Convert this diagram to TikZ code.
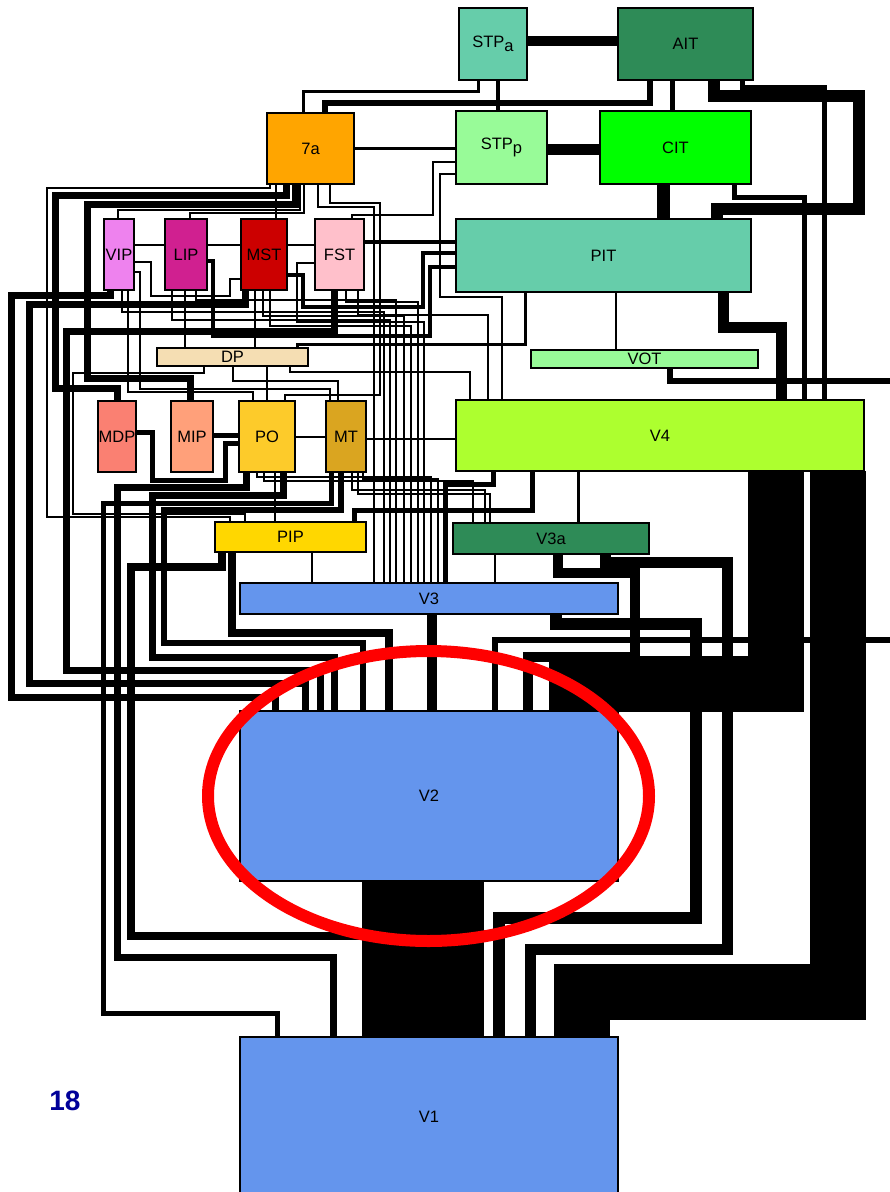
\documentclass[tikz,border=0pt]{standalone}
\usepackage{fontspec}
\setmainfont{Liberation Sans}
\pgfdeclarelayer{bg}
\pgfsetlayers{bg,main}
\definecolor{cAqua}{HTML}{66CDAA}
\definecolor{cSea}{HTML}{2E8B57}
\definecolor{cOrange}{HTML}{FFA500}
\definecolor{cPale}{HTML}{98FB98}
\definecolor{cLime}{HTML}{00FF00}
\definecolor{cViolet}{HTML}{EE82EE}
\definecolor{cLip}{HTML}{D02090}
\definecolor{cMst}{HTML}{CC0000}
\definecolor{cPink}{HTML}{FFC0CB}
\definecolor{cWheat}{HTML}{F5DEB3}
\definecolor{cSalmon}{HTML}{FA8072}
\definecolor{cLSalmon}{HTML}{FFA07A}
\definecolor{cPo}{HTML}{FDCB2A}
\definecolor{cGold}{HTML}{DAA520}
\definecolor{cVfour}{HTML}{ADFF2F}
\definecolor{cPip}{HTML}{FFD700}
\definecolor{cBlue}{HTML}{6495ED}
\definecolor{cNum}{HTML}{000099}
\begin{document}
\begin{tikzpicture}[x=1pt,y=-1pt,line join=miter,
  box/.style={draw=black,line width=1.6pt,rectangle,inner sep=0pt,outer sep=0pt,font=\fontsize{16.5}{18}\selectfont,text=black},
  thinln/.style={line width=1.3pt},
  w2/.style={line width=2pt},
  w3/.style={line width=3pt},
  w4/.style={line width=4pt},
  w5/.style={line width=5pt},
  w6/.style={line width=6pt},
  w7/.style={line width=7pt},
  w8/.style={line width=8pt},
  w10/.style={line width=10pt},
  w11/.style={line width=11pt},
  w12/.style={line width=12pt},
  w13/.style={line width=13pt},
  massive/.style={line width=56pt}]
\useasboundingbox (0,0) rectangle (890,1192);

% ---- boxes
\node[box,fill=cAqua,minimum width=68pt,minimum height=72pt] (stpa) at (493,44) {STP\raisebox{-0.45ex}{a}};
\node[box,fill=cSea,minimum width=135pt,minimum height=72pt] (ait) at (685.5,44) {AIT};
\node[box,fill=cOrange,minimum width=87pt,minimum height=71pt] (sev) at (310.5,148.5) {7a};
\node[box,fill=cPale,minimum width=91pt,minimum height=73pt] (stpp) at (501.5,147.5) {STP\raisebox{-0.45ex}{p}};
\node[box,fill=cLime,minimum width=151pt,minimum height=73pt] (cit) at (675.5,147.5) {CIT};
\node[box,fill=cViolet,minimum width=30pt,minimum height=71pt] (vip) at (119,254.5) {VIP};
\node[box,fill=cLip,minimum width=42pt,minimum height=71pt] (lip) at (186,254.5) {LIP};
\node[box,fill=cMst,minimum width=46pt,minimum height=71pt] (mst) at (264,254.5) {MST};
\node[box,fill=cPink,minimum width=49pt,minimum height=71pt] (fst) at (339.5,254.5) {FST};
\node[box,fill=cAqua,minimum width=295pt,minimum height=73pt] (pit) at (603.5,255.5) {PIT};
\node[box,fill=cWheat,minimum width=151pt,minimum height=18pt] (dp) at (232.5,357) {DP};
\node[box,fill=cPale,minimum width=227pt,minimum height=18pt] (vot) at (644.5,359) {VOT};
\node[box,fill=cSalmon,minimum width=38pt,minimum height=71pt] (mdp) at (117,436.5) {MDP};
\node[box,fill=cLSalmon,minimum width=42pt,minimum height=71pt] (mip) at (192,436.5) {MIP};
\node[box,fill=cPo,minimum width=56pt,minimum height=71pt] (po) at (267,436.5) {PO};
\node[box,fill=cGold,minimum width=40pt,minimum height=71pt] (mt) at (346,436.5) {MT};
\node[box,fill=cVfour,minimum width=408pt,minimum height=71pt] (v4) at (660,435.5) {V4};
\node[box,fill=cPip,minimum width=151pt,minimum height=30pt] (pip) at (290.5,537) {PIP};
\node[box,fill=cSea,minimum width=196pt,minimum height=31pt] (v3a) at (551,538.5) {V3a};
\node[box,fill=cBlue,minimum width=378pt,minimum height=31pt] (v3) at (429,598.5) {V3};
\node[box,fill=cBlue,minimum width=378pt,minimum height=170pt] (v2) at (429,796) {V2};
\node[box,fill=cBlue,minimum width=378pt,minimum height=160pt] (v1) at (429,1117) {V1};
\node[font=\fontsize{28}{30}\selectfont\bfseries,text=cNum] (pgnum) at (65,1101) {18};

\coordinate (edgeA) at (896,381);
\coordinate (edgeB) at (896,640);
\coordinate (pipEnd) at (400,936);

\begin{pgfonlayer}{bg}
% ---- top
\draw[line width=10pt] (stpa.east |- 0,41) -- (ait.west |- 0,41);
\draw[w4] (stpa.south -| 498,0) -- (stpp.north -| 498,0);
\draw[w3] (stpa.south -| 478,0) -- (478,91) -- (303,91) -- (sev.north -| 303,0);
\draw[w6] (ait.south -| 650,0) -- (650,103) -- (325,103) -- (sev.north -| 325,0);
\draw[w5] (ait.south -| 672,0) -- (cit.north -| 672,0);
\draw[w12] (ait.south -| 714,0) -- (714,96) -- (859,96) -- (859,209) -- (717,209) -- (pit.north -| 717,0);
\draw[w5] (ait.south -| 742,0) -- (742,87) -- (824,87) -- (v4.north -| 824,0);
\draw[w5] (cit.south -| 734,0) -- (734,197) -- (804,197) -- (v4.north -| 804,0);
\draw[w11] (stpp.east |- 0,149.5) -- (cit.west |- 0,149.5);
\draw[w13] (cit.south -| 663,0) -- (pit.north -| 663,0);
\draw[w3] (sev.east |- 0,148) -- (stpp.west |- 0,148);
\draw[w11] (pit.south -| 723,0) -- (723,327) -- (781,327) -- (v4.north -| 781,0);
\draw[w2] (pit.south -| 616,0) -- (vot.north -| 616,0);
\draw[w6] (vot.south -| 670,0) -- (670,381) -- (edgeA);
\draw[w6] (edgeB) -- (495,640) -- (v2.north -| 495,0);

% ---- massive
\draw[massive] (v4.south -| 776,0) -- (776,684) -- (577,684) -- (v2.north -| 577,0);
\draw[massive] (v4.south -| 838,0) -- (838,992) -- (582,992) -- (v1.north -| 582,0);
\draw[line width=122pt] (v2.south -| 423,0) -- (v1.north -| 423,0);

% ---- V4 / V3a / V3
\draw[w5] (v4.south -| 493,0) -- (493,484) -- (445,484) -- (v3.north -| 445,0);
\draw[w5] (v4.south -| 532,0) -- (532,510) -- (354,510) -- (pip.north -| 354,0);
\draw[w3] (v4.south -| 578,0) -- (v3a.north -| 578,0);
\draw[thinln] (v3a.south -| 495,0) -- (v3.north -| 495,0);
\draw[w10] (v3a.south -| 558,0) -- (558,573) -- (635,573) -- (635,657) -- (528,657) -- (v2.north -| 528,0);
\draw[w11] (v3a.south -| 605,0) -- (605,562) -- (727,562) -- (727,949) -- (530,949) -- (v1.north -| 530,0);
\draw[w10] (v3.south -| 432,0) -- (v2.north -| 432,0);
\draw[w12] (v3.south -| 556,0) -- (556,624) -- (696,624) -- (696,918) -- (499,918) -- (v1.north -| 499,0);

% ---- left loops into V2 / V1
\draw[w7] (vip.south -| 110,0) -- (110,295) -- (11,295) -- (11,697) -- (275,697) -- (v2.north -| 275,0);
\draw[w7] (mst.south -| 245,0) -- (245,304) -- (29,304) -- (29,683) -- (305,683) -- (v2.north -| 305,0);
\draw[w7] (fst.south -| 334,0) -- (334,331) -- (66,331) -- (66,670) -- (320,670) -- (v2.north -| 320,0);
\draw[w7] (po.south -| 283,0) -- (283,495) -- (152,495) -- (152,657) -- (334,657) -- (v2.north -| 334,0);
\draw[w6] (mt.south -| 341,0) -- (341,510) -- (164,510) -- (164,643) -- (363,643) -- (v2.north -| 363,0);
\draw[w8] (pip.south -| 232,0) -- (232,633) -- (389,633) -- (v2.north -| 389,0);
\draw[w5] (mt.south -| 331,0) -- (331,503) -- (103,503) -- (103,1013) -- (277,1013) -- (v1.north -| 277,0);
\draw[w7] (po.south -| 246,0) -- (246,487) -- (117,487) -- (117,957) -- (333,957) -- (v1.north -| 333,0);
\draw[w8] (pip.south -| 222,0) -- (222,567) -- (131,567) -- (131,936) -- (pipEnd);

% ---- upper left
\draw[w7] (sev.south -| 286,0) -- (286,195) -- (55,195) -- (55,388) -- (117,388) -- (mdp.north -| 117,0);
\draw[w7] (sev.south -| 295,0) -- (295,204) -- (87,204) -- (87,378) -- (190,378) -- (mip.north -| 190,0);
\draw[thinln] (sev.south -| 270,0) -- (270,188) -- (47,188) -- (47,517) -- (230,517) -- (pip.north -| 230,0);
\draw[thinln] (sev.south -| 276,0) -- (mst.north -| 276,0);
\draw[thinln] (sev.south -| 300,0) -- (300,210) -- (118,210) -- (vip.north -| 118,0);
\draw[thinln] (sev.south -| 304,0) -- (304,213) -- (190,213) -- (lip.north -| 190,0);
\draw[thinln] (sev.south -| 318,0) -- (318,207) -- (374,207) -- (v3.north -| 374,0);
\draw[thinln] (sev.south -| 330,0) -- (330,203) -- (380,203) -- (380,395) -- (285,395) -- (po.north -| 285,0);
\draw[thinln] (stpp.west |- 0,162) -- (433,162) -- (433,215) -- (352,215) -- (fst.north -| 352,0);
\draw[thinln] (stpp.west |- 0,174) -- (440,174) -- (440,297) -- (502,297) -- (v4.north -| 502,0);
\draw[w4] (fst.east |- 0,242) -- (pit.west |- 0,242);
\draw[w4] (mst.east |- 0,275) -- (303,275) -- (303,307) -- (423,307) -- (423,253) -- (pit.west |- 0,253);
\draw[w4] (lip.east |- 0,261) -- (213,261) -- (213,336) -- (430,336) -- (430,267) -- (pit.west |- 0,267);
\draw[w3] (pit.south -| 525,0) -- (525,344) -- (297,344) -- (dp.north -| 297,0);

% ---- middle row
\draw[w2] (mt.east |- 0,439) -- (v4.west |- 0,439);
\draw[thinln] (po.east |- 0,437) -- (mt.west |- 0,437);
\draw[w5] (mip.east |- 0,435) -- (po.west |- 0,435);
\draw[w5] (mdp.east |- 0,432) -- (152,432) -- (152,480) -- (225,480) -- (225,443) -- (po.west |- 0,443);

% ---- thin bundle
\draw[thinln] (vip.east |- 0,245) -- (lip.west |- 0,245);
\draw[thinln] (lip.east |- 0,245) -- (mst.west |- 0,245);
\draw[thinln] (mst.east |- 0,245) -- (fst.west |- 0,245);
\draw[thinln] (vip.east |- 0,262) -- (151,262) -- (151,296) -- (230,296) -- (230,279) -- (mst.west |- 0,279);
\draw[thinln] (vip.east |- 0,272) -- (140,272) -- (140,389) -- (330,389) -- (mt.north -| 330,0);
\draw[thinln] (vip.south -| 122,0) -- (122,312) -- (384,312) -- (v3.north -| 384,0);
\draw[thinln] (vip.south -| 128,0) -- (128,392) -- (253,392) -- (po.north -| 253,0);
\draw[thinln] (lip.south -| 172,0) -- (172,320) -- (390,320) -- (v3.north -| 390,0);
\draw[thinln] (lip.south -| 185,0) -- (dp.north -| 185,0);
\draw[thinln] (lip.south -| 196,0) -- (196,300) -- (396,300) -- (v3.north -| 396,0);
\draw[thinln] (mst.south -| 255,0) -- (dp.north -| 255,0);
\draw[thinln] (mst.south -| 263,0) -- (263,316) -- (404,316) -- (v3.north -| 404,0);
\draw[thinln] (mst.south -| 270,0) -- (270,326) -- (411,326) -- (v3.north -| 411,0);
\draw[thinln] (fst.south -| 346,0) -- (346,302) -- (418,302) -- (v3.north -| 418,0);
\draw[thinln] (fst.south -| 358,0) -- (358,315) -- (488,315) -- (v4.north -| 488,0);
\draw[thinln] (fst.west |- 0,263) -- (297,263) -- (297,322) -- (424,322) -- (v3.north -| 424,0);
\draw[thinln] (dp.south -| 204,0) -- (204,373) -- (73,373) -- (73,514) -- (245,514) -- (pip.north -| 245,0);
\draw[thinln] (dp.south -| 233,0) -- (233,381) -- (338,381) -- (mt.north -| 338,0);
\draw[thinln] (dp.south -| 267,0) -- (po.north -| 267,0);
\draw[thinln] (dp.south -| 290,0) -- (290,372) -- (470,372) -- (v4.north -| 470,0);
\draw[thinln] (po.south -| 275,0) -- (pip.north -| 275,0);
\draw[thinln] (pip.south -| 312,0) -- (v3.north -| 312,0);
\draw[thinln] (po.south -| 257,0) -- (257,477) -- (431,477) -- (v3.north -| 431,0);
\draw[thinln] (po.south -| 264,0) -- (264,481) -- (473,481) -- (v3a.north -| 473,0);
\draw[thinln] (mt.south -| 352,0) -- (352,490) -- (485,490) -- (v3a.north -| 485,0);
\draw[thinln] (mt.south -| 358,0) -- (358,494) -- (490,494) -- (v3a.north -| 490,0);
\draw[thinln] (mt.south -| 363,0) -- (363,479) -- (438,479) -- (v3.north -| 438,0);
\end{pgfonlayer}

% ---- red ellipse
\draw[red,line width=12pt] (428.5,796) ellipse [x radius=220.5, y radius=145];
\end{tikzpicture}
\end{document}
